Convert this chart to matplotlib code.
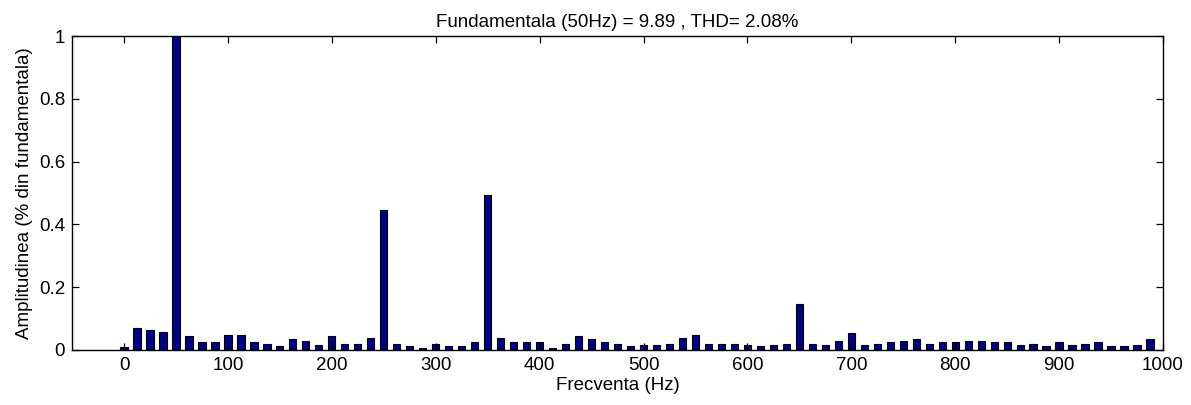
import matplotlib
matplotlib.use("Agg")
import matplotlib.pyplot as plt
import numpy as np

plt.rcParams["font.family"] = ["Liberation Sans", "DejaVu Sans"]

# harmonic spectrum, 12.5 Hz resolution, relative to the fundamental
step_hz = 12.5
amplitudes = [
    0.010, 0.071, 0.063, 0.057, 1.000, 0.044, 0.025, 0.025,   # 0 .. 87.5
    0.049, 0.049, 0.025, 0.020, 0.011, 0.034, 0.030, 0.015,   # 100 .. 187.5
    0.044, 0.020, 0.020, 0.038, 0.446, 0.020, 0.011, 0.006,   # 200 .. 287.5
    0.019, 0.011, 0.011, 0.025, 0.494, 0.038, 0.025, 0.025,   # 300 .. 387.5
    0.025, 0.006, 0.020, 0.044, 0.034, 0.025, 0.020, 0.011,   # 400 .. 487.5
    0.015, 0.015, 0.020, 0.038, 0.049, 0.020, 0.020, 0.020,   # 500 .. 587.5
    0.015, 0.011, 0.015, 0.020, 0.146, 0.020, 0.015, 0.030,   # 600 .. 687.5
    0.053, 0.015, 0.020, 0.024, 0.030, 0.034, 0.020, 0.024,   # 700 .. 787.5
    0.024, 0.030, 0.030, 0.025, 0.025, 0.015, 0.020, 0.011,   # 800 .. 887.5
    0.024, 0.015, 0.020, 0.025, 0.011, 0.011, 0.015, 0.034,   # 900 .. 987.5
]
freqs = np.arange(len(amplitudes)) * step_hz

fundamental = 9.89
thd = 2.08
fs = 13.5

fig = plt.figure(figsize=(11.91, 4.05), dpi=100)
ax = fig.add_axes([0.0605, 0.136, 0.916, 0.775])

ax.bar(freqs, amplitudes, width=7.0, color="#000080", edgecolor="black",
       linewidth=0.8)

ax.set_xlim(-50, 1000)
ax.set_ylim(0, 1)
ax.set_xticks(np.arange(0, 1001, 100))
ax.set_yticks([0, 0.2, 0.4, 0.6, 0.8, 1])
ax.set_yticklabels(["0", "0.2", "0.4", "0.6", "0.8", "1"])
ax.tick_params(direction="in", top=True, right=True, length=5, width=0.9,
               labelsize=fs, pad=5)
for s in ax.spines.values():
    s.set_linewidth(1.0)

ax.set_title(f"Fundamentala (50Hz) = {fundamental} , THD= {thd}%",
             fontsize=fs, pad=6.5)
ax.set_xlabel("Frecventa (Hz)", fontsize=fs, labelpad=2.5)
ax.set_ylabel("Amplitudinea (% din fundamentala)", fontsize=fs, labelpad=4.5)

fig.savefig("out.png", dpi=100)
